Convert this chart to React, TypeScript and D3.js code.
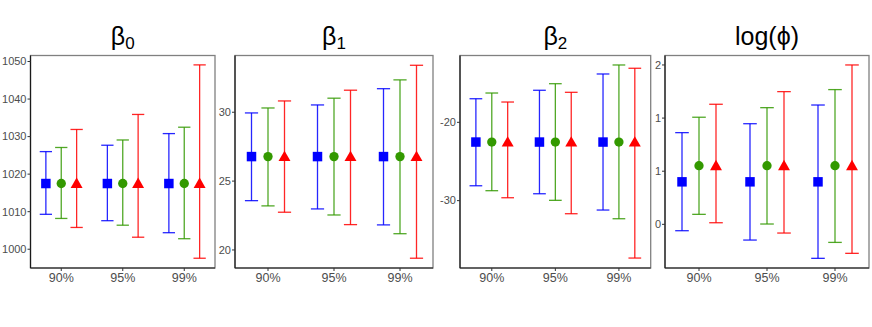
import React, { useEffect, useRef } from "react";
import * as d3 from "d3";

// categories and series
const levels = ["90%", "95%", "99%"];
const seriesColors = ["#0000ff", "#339900", "#ff0000"];
const seriesShapes = ["square", "circle", "triangle"];

// panel titles (main symbol + subscript)
const titles = ["β", "β", "β", "log(ϕ)"];
const subs = ["0", "1", "2", ""];

// beta0
const b0Mean = [1017.5, 1017.5, 1017.5];
const b0Lower = [
  [1009.3, 1007.6, 1004.4],
  [1008.2, 1006.4, 1002.8],
  [1005.8, 1003.2, 997.6],
];
const b0Upper = [
  [1026.0, 1027.7, 1030.8],
  [1027.1, 1029.1, 1032.5],
  [1031.9, 1035.9, 1049.1],
];
const b0Ticks = [1000, 1010, 1020, 1030, 1040, 1050];
const b0Labels = ["1000", "1010", "1020", "1030", "1040", "1050"];

// beta1
const b1Mean = [26.78, 26.78, 26.78];
const b1Lower = [
  [23.58, 22.98, 21.82],
  [23.2, 22.54, 21.18],
  [22.74, 21.84, 19.4],
];
const b1Upper = [
  [29.95, 30.53, 31.71],
  [30.31, 31.02, 32.35],
  [30.82, 31.6, 33.41],
];
const b1Ticks = [20, 25, 30];
const b1Labels = ["20", "25", "30"];

// beta2
const b2Mean = [-22.52, -22.52, -22.52];
const b2Lower = [
  [-28.1, -29.12, -31.2],
  [-28.73, -29.96, -32.31],
  [-29.63, -31.67, -37.33],
];
const b2Upper = [
  [-16.99, -15.91, -13.83],
  [-16.26, -15.07, -12.68],
  [-17.41, -16.17, -13.1],
];
const b2Ticks = [-30, -20];
const b2Labels = ["-30", "-20"];

// log(phi)
const phiMean = [0.9, 1.052, 1.052];
const phiLower = [
  [0.44, 0.352, 0.18],
  [0.594, 0.503, 0.33],
  [0.515, 0.418, 0.227],
];
const phiUpper = [
  [1.363, 1.447, 1.623],
  [1.508, 1.598, 1.768],
  [1.63, 1.749, 2.0],
];
const phiTicks = [0.5, 1, 1.5, 2];
const phiLabels = ["0", "1", "1", "2"];

const panels = [
  { mean: b0Mean, lower: b0Lower, upper: b0Upper, ticks: b0Ticks, labels: b0Labels, domain: [995.0, 1051.6] },
  { mean: b1Mean, lower: b1Lower, upper: b1Upper, ticks: b1Ticks, labels: b1Labels, domain: [18.69, 34.12] },
  { mean: b2Mean, lower: b2Lower, upper: b2Upper, ticks: b2Ticks, labels: b2Labels, domain: [-38.6, -11.47] },
  { mean: phiMean, lower: phiLower, upper: phiUpper, ticks: phiTicks, labels: phiLabels, domain: [0.089, 2.089] },
];

// layout
const W = 872;
const H = 327;
const panelLeft = [30.5, 235, 460, 665];
const panelRight = [215, 433, 650.7, 869];
const top = 55.5;
const bottom = 268;
const font = "Liberation Sans, Arial, Helvetica, sans-serif";

export default function App() {
  const ref = useRef<SVGSVGElement>(null);

  useEffect(() => {
    document.body.style.margin = "0";
    const svg = d3.select(ref.current);
    svg.selectAll("*").remove();

    panels.forEach((p, pi) => {
      const x0 = panelLeft[pi];
      const x1 = panelRight[pi];
      const xScale = d3.scaleBand().domain(levels).range([x0, x1]).padding(0);
      const yScale = d3.scaleLinear().domain(p.domain).range([bottom, top]);
      const bw = xScale.bandwidth();
      const dodge = d3
        .scaleOrdinal<number>()
        .domain(["0", "1", "2"])
        .range([-0.25 * bw, 0, 0.25 * bw]);
      const cap = 0.1 * bw;

      const g = svg.append("g");

      // frame
      g.append("rect")
        .attr("x", x0)
        .attr("y", top)
        .attr("width", x1 - x0)
        .attr("height", bottom - top)
        .attr("fill", "white")
        .attr("stroke", "#808080")
        .attr("stroke-width", 1.3);
      g.append("line")
        .attr("x1", x0).attr("x2", x0).attr("y1", top).attr("y2", bottom)
        .attr("stroke", "#1a1a1a").attr("stroke-width", 1.2);
      g.append("line")
        .attr("x1", x0).attr("x2", x1).attr("y1", bottom).attr("y2", bottom)
        .attr("stroke", "#1a1a1a").attr("stroke-width", 1.2);

      // y ticks
      p.ticks.forEach((t, i) => {
        const y = yScale(t);
        g.append("line")
          .attr("x1", x0 - 3).attr("x2", x0).attr("y1", y).attr("y2", y)
          .attr("stroke", "#333").attr("stroke-width", 1);
        g.append("text")
          .attr("x", x0 - 4)
          .attr("y", y)
          .attr("dy", "0.35em")
          .attr("text-anchor", "end")
          .attr("font-family", font)
          .attr("font-size", 11)
          .attr("fill", "#4d4d4d")
          .text(p.labels[i]);
      });

      // x ticks
      levels.forEach((l) => {
        const x = xScale(l)! + bw / 2;
        g.append("line")
          .attr("x1", x).attr("x2", x).attr("y1", bottom).attr("y2", bottom + 3)
          .attr("stroke", "#333").attr("stroke-width", 1);
        g.append("text")
          .attr("x", x)
          .attr("y", bottom + 14)
          .attr("text-anchor", "middle")
          .attr("font-family", font)
          .attr("font-size", 12.5)
          .attr("fill", "#4d4d4d")
          .text(l);
      });

      // error bars + points
      seriesColors.forEach((color, si) => {
        levels.forEach((l, li) => {
          const cx = xScale(l)! + bw / 2 + dodge(String(si));
          const yl = yScale(p.lower[si][li]);
          const yu = yScale(p.upper[si][li]);
          const eb = g.append("g").attr("stroke", color).attr("stroke-width", 1.3).attr("stroke-opacity", 0.85);
          eb.append("line").attr("x1", cx).attr("x2", cx).attr("y1", yl).attr("y2", yu);
          eb.append("line").attr("x1", cx - cap).attr("x2", cx + cap).attr("y1", yl).attr("y2", yl);
          eb.append("line").attr("x1", cx - cap).attr("x2", cx + cap).attr("y1", yu).attr("y2", yu);

          const cy = yScale(p.mean[si]);
          const shape = seriesShapes[si];
          const sym =
            shape === "square"
              ? d3.symbol(d3.symbolSquare, 90)
              : shape === "circle"
              ? d3.symbol(d3.symbolCircle, 68)
              : d3.symbol(d3.symbolTriangle, 62);
          g.append("path")
            .attr("d", sym()!)
            .attr("transform", `translate(${cx},${cy + (shape === "triangle" ? 1 : 0)})`)
            .attr("fill", color);
        });
      });

      // title
      const title = g
        .append("text")
        .attr("x", (x0 + x1) / 2)
        .attr("y", 45)
        .attr("text-anchor", "middle")
        .attr("font-family", font)
        .attr("font-size", 25)
        .attr("fill", "black");
      title.append("tspan").text(titles[pi]);
      if (subs[pi]) {
        title.append("tspan").attr("font-size", 17).attr("dy", 4).text(subs[pi]);
      }
    });
  }, []);

  return <svg ref={ref} width={W} height={H} style={{ display: "block", background: "white" }} />;
}
